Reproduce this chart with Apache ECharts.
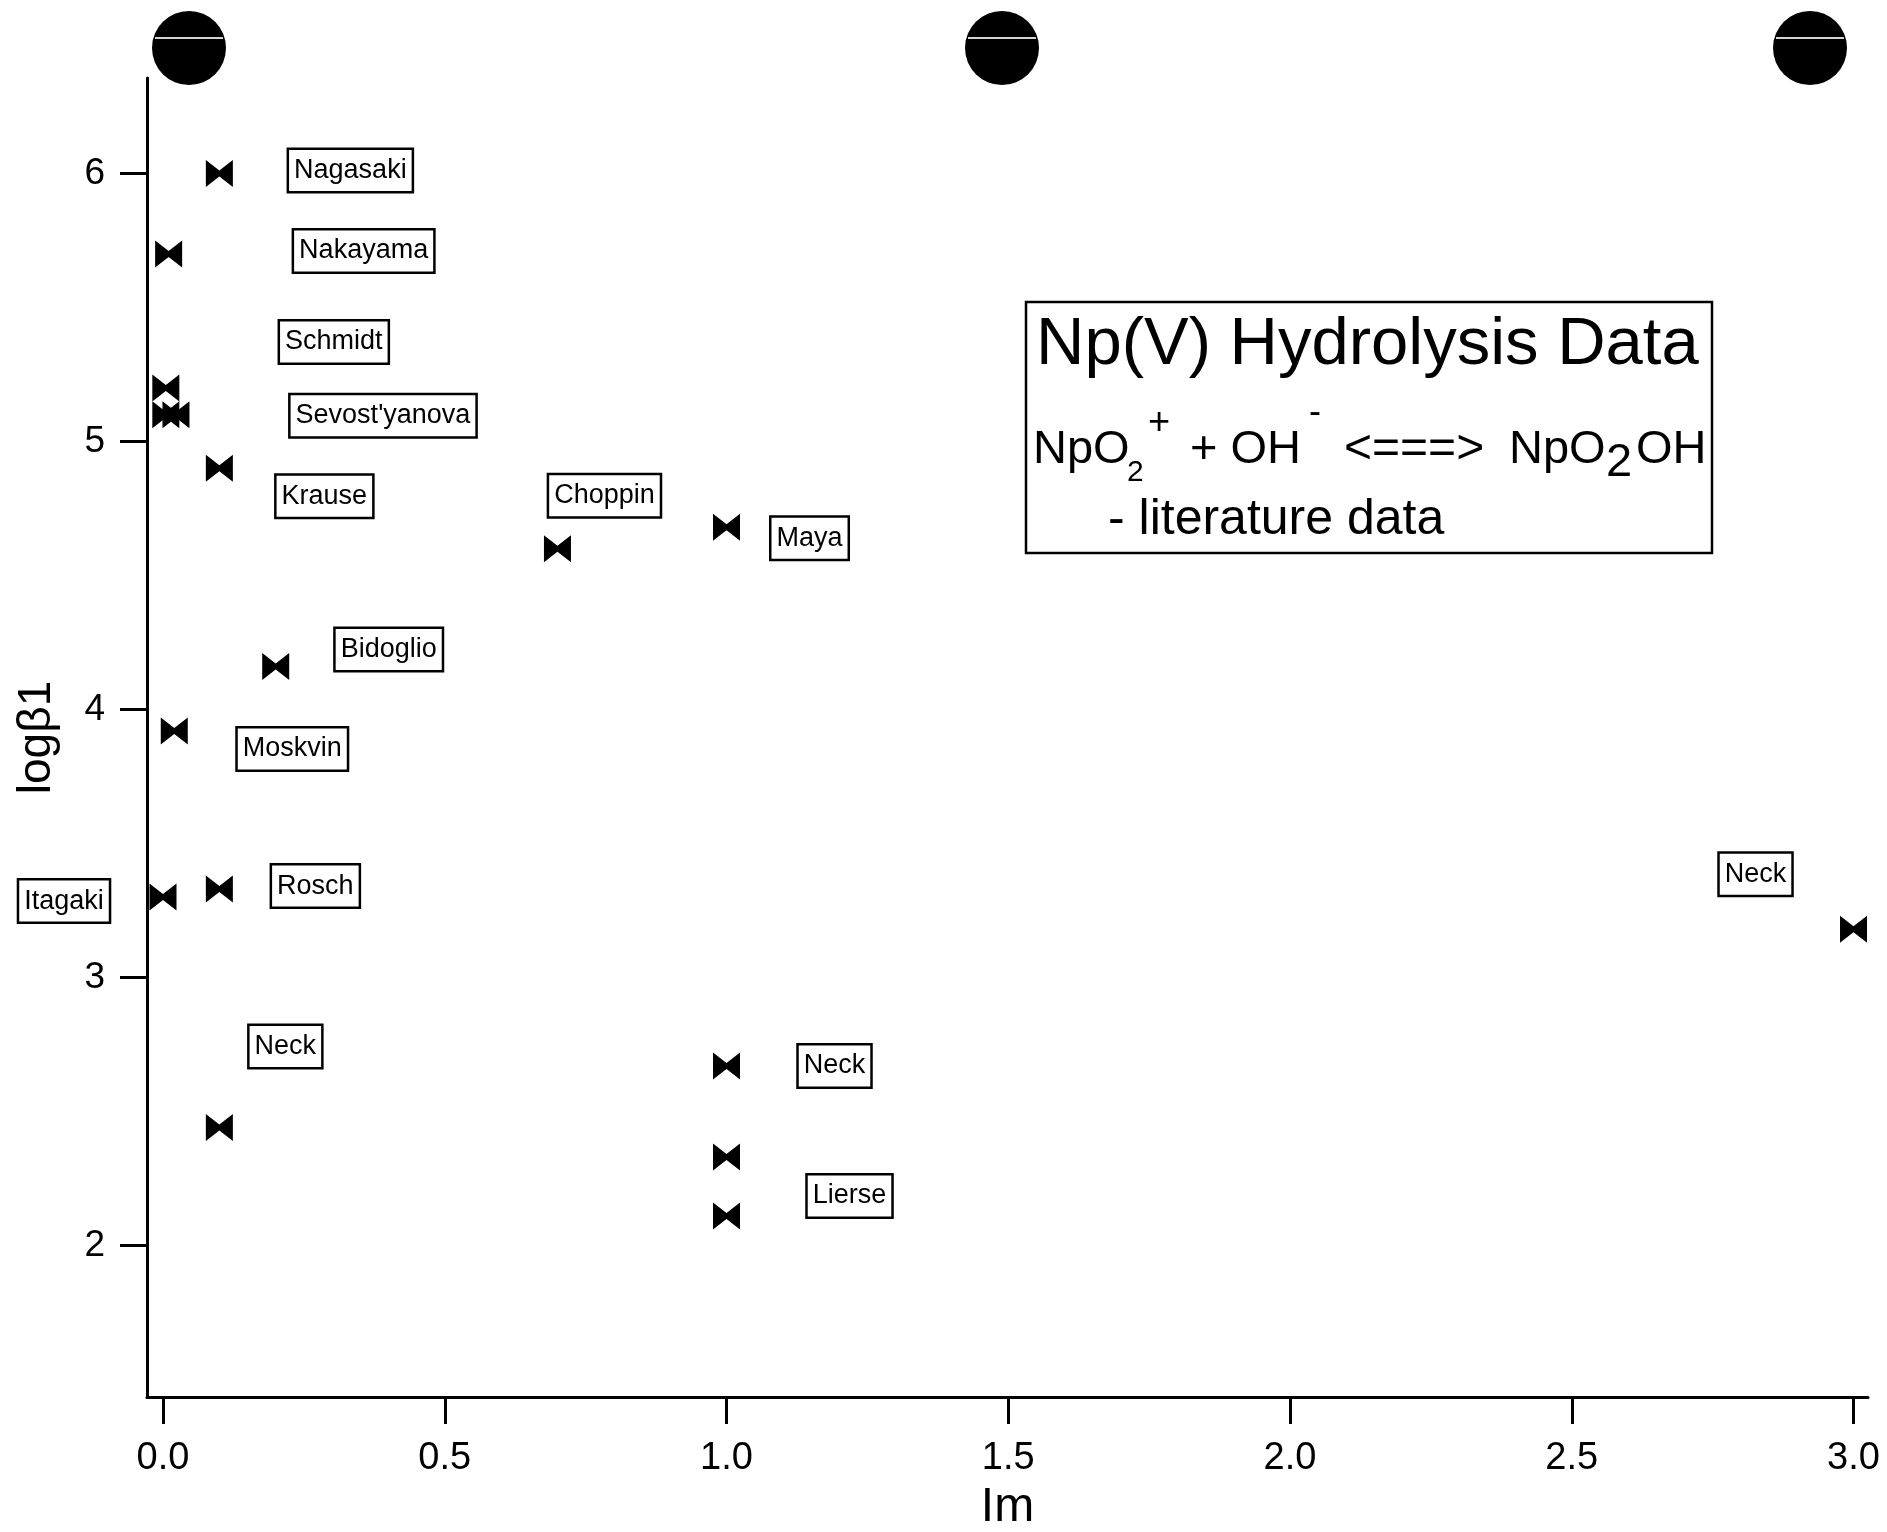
<!DOCTYPE html>
<html>
<head>
<meta charset="utf-8">
<title>Np(V) Hydrolysis Data</title>
<script src="https://cdn.jsdelivr.net/npm/echarts@6/dist/echarts.min.js"></script>
<style>
  html, body { margin: 0; padding: 0; background: #fff; }
  #chart { width: 1887px; height: 1532px; }
</style>
</head>
<body>
<div id="chart"></div>
<script>
// Ionic strength (Im) and log beta1 for each literature value
const im        = [0.1, 0.01, 0.005, 0.005, 0.023, 0.1, 0.7, 1.0, 0.2, 0.02, 0.1, 0.0, 0.1, 1.0, 1.0, 1.0, 3.0];
const logBeta1  = [6.0, 5.7, 5.2, 5.1, 5.1, 4.9, 4.6, 4.68, 4.16, 3.92, 3.33, 3.30, 2.44, 2.67, 2.33, 2.11, 3.18];
const authors   = ['Nagasaki', 'Nakayama', 'Schmidt', '', "Sevost'yanova", 'Krause', 'Choppin', 'Maya',
                   'Bidoglio', 'Moskvin', 'Rosch', 'Itagaki', 'Neck', 'Neck', '', 'Lierse', 'Neck'];

// Tick values
const xTicks = [0, 0.5, 1.0, 1.5, 2.0, 2.5, 3.0];
const yTicks = [2, 3, 4, 5, 6];

// Tag placement (pixel offset of each name box from its marker)
const labelOffsets = [[131, -3], [195, -3], [168, -46], null, [207, 1], [105, 28], [47, -53], [83, 11],
                      [113, -17], [118, 18], [96, -3], [-99, 4], [66, -81], [108, 0], null, [123, -20], [-98, -55]];

const FONT = "'Liberation Sans', Arial, Helvetica, sans-serif";
// Solid bowtie marker with a narrow waist
const BOWTIE = 'path://M0,0 L13.5,10.5 L27,0 L27,27 L13.5,16.5 L0,27 Z';

const points = im.map((x, i) => {
  const item = { value: [x, logBeta1[i]] };
  if (authors[i]) {
    item.label = { show: true, formatter: authors[i], offset: labelOffsets[i] };
  } else {
    item.label = { show: false };
  }
  return item;
});

// Binder punch holes along the top edge of the sheet
function hole(cx) {
  return [
    { type: 'circle', shape: { cx: cx, cy: 48, r: 37 }, style: { fill: '#000' }, z: 10 },
    { type: 'line', shape: { x1: cx - 34, y1: 38, x2: cx + 34, y2: 38 },
      style: { stroke: '#d4d4d4', lineWidth: 2 }, z: 11 }
  ];
}

function txt(x, y, text, size) {
  return { type: 'text', x: x, y: y, z: 21,
    style: { text: text, fill: '#000', font: size + 'px ' + FONT, textAlign: 'left', textVerticalAlign: 'middle' } };
}

const chart = echarts.init(document.getElementById('chart'), null, { renderer: 'canvas' });

chart.setOption({
  animation: false,
  backgroundColor: '#fff',
  textStyle: { fontFamily: FONT },
  grid: { left: 147, right: 19, top: 78, bottom: 135, containLabel: false, outerBoundsMode: 'none' },
  xAxis: {
    type: 'value',
    min: -0.0284,
    max: 3.0257,
    name: 'Im',
    nameLocation: 'middle',
    nameGap: 87,
    nameTextStyle: { fontSize: 48, color: '#000', fontFamily: FONT },
    axisLine: { show: true, onZero: false, lineStyle: { color: '#000', width: 3 } },
    axisTick: { show: true, inside: false, length: 27, customValues: xTicks, lineStyle: { color: '#000', width: 3 } },
    axisLabel: { show: true, customValues: xTicks, margin: 43, fontSize: 38, color: '#000', fontFamily: FONT,
                 formatter: v => Number(v).toFixed(1) },
    splitLine: { show: false }
  },
  yAxis: {
    type: 'value',
    min: 1.4347,
    max: 6.3563,
    name: 'logβ1',
    nameLocation: 'middle',
    nameGap: 87,
    nameRotate: 90,
    nameTextStyle: { fontSize: 46, color: '#000', fontFamily: FONT },
    axisLine: { show: true, onZero: false, lineStyle: { color: '#000', width: 3 } },
    axisTick: { show: true, inside: false, length: 27, customValues: yTicks, lineStyle: { color: '#000', width: 3 } },
    axisLabel: { show: true, customValues: yTicks, margin: 42, fontSize: 37, color: '#000', fontFamily: FONT,
                 formatter: v => String(Math.round(v)) },
    splitLine: { show: false }
  },
  series: [{
    type: 'scatter',
    symbol: BOWTIE,
    symbolSize: [27, 27],
    itemStyle: { color: '#000', opacity: 1 },
    emphasis: { disabled: true },
    label: {
      position: 'inside',
      fontSize: 27,
      lineHeight: 29,
      color: '#000',
      opacity: 1,
      fontFamily: FONT,
      backgroundColor: '#fff',
      borderColor: '#000',
      borderWidth: 2.5,
      padding: [6, 5, 6, 5]
    },
    data: points,
    z: 5
  }],
  graphic: [
    ...hole(189),
    ...hole(1002),
    ...hole(1810),
    { type: 'rect', shape: { x: 1026, y: 302, width: 686, height: 251 },
      style: { fill: '#fff', stroke: '#000', lineWidth: 2.5 }, z: 20 },
    txt(1036, 346, 'Np(V) Hydrolysis Data', 67),
    txt(1033, 450, 'NpO', 47),
    txt(1127, 473, '2', 30),
    txt(1148, 424, '+', 38),
    txt(1190, 450, '+ OH', 47),
    txt(1309, 413, '-', 36),
    txt(1344, 450, '<===>', 48),
    txt(1509, 450, 'NpO', 47),
    txt(1606, 463, '2', 47),
    txt(1636, 450, 'OH', 47),
    txt(1108, 520, '- literature data', 50)
  ]
});
</script>
</body>
</html>
